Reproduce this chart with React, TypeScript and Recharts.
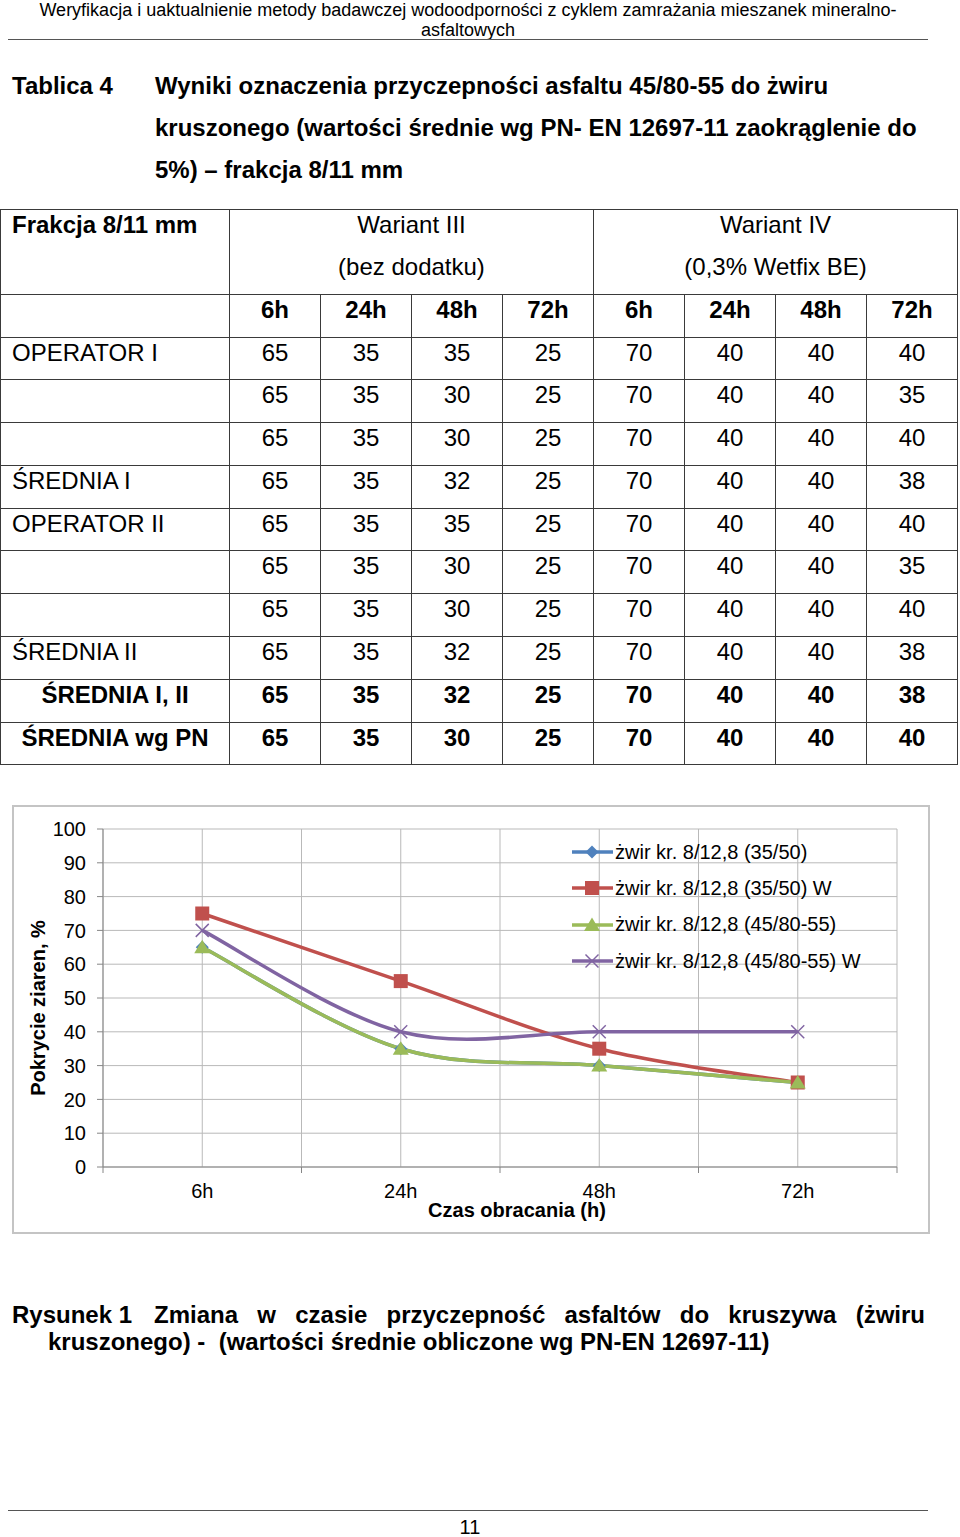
import React from "react";
import { LineChart, Line, XAxis, YAxis, CartesianGrid, Legend } from "recharts";

// dane wykresu
const hours = ["6h", "24h", "48h", "72h"];
const gravel3550 = [65, 35, 30, 25];
const gravel3550W = [75, 55, 35, 25];
const gravel4580 = [65, 35, 30, 25];
const gravel4580W = [70, 40, 40, 40];
const seriesNames = [
    "żwir kr. 8/12,8 (35/50)",
    "żwir kr. 8/12,8 (35/50) W",
    "żwir kr. 8/12,8 (45/80-55)",
    "żwir kr. 8/12,8 (45/80-55) W",
];
const seriesColors = ["#4F81BD", "#C0504D", "#9BBB59", "#8064A2"];
const seriesMarkers = ["diamond", "square", "triangle", "cross"];
const yTicks = [0, 10, 20, 30, 40, 50, 60, 70, 80, 90, 100];
const yTitle = "Pokrycie ziaren, %";
const xTitle = "Czas obracania (h)";

// dane tablicy
const tableHours = ["6h", "24h", "48h", "72h", "6h", "24h", "48h", "72h"];
const operatorI = [
    [65, 35, 35, 25, 70, 40, 40, 40],
    [65, 35, 30, 25, 70, 40, 40, 35],
    [65, 35, 30, 25, 70, 40, 40, 40],
];
const meanI = [65, 35, 32, 25, 70, 40, 40, 38];
const operatorII = [
    [65, 35, 35, 25, 70, 40, 40, 40],
    [65, 35, 30, 25, 70, 40, 40, 35],
    [65, 35, 30, 25, 70, 40, 40, 40],
];
const meanII = [65, 35, 32, 25, 70, 40, 40, 38];
const meanI_II = [65, 35, 32, 25, 70, 40, 40, 38];
const meanPN = [65, 35, 30, 25, 70, 40, 40, 40];

const FONT = "'Liberation Sans', Arial, sans-serif";
const CHART_FS = 20;

const data = hours.map((h, i) => ({
    hour: h,
    s1: gravel3550[i],
    s2: gravel3550W[i],
    s3: gravel4580[i],
    s4: gravel4580W[i],
}));

// wygladzanie linii jak w Excelu (Catmull-Rom -> Bezier)
function excelSmooth(context: any) {
    let pts: number[][] = [];
    return {
        areaStart() {},
        areaEnd() {},
        lineStart() {
            pts = [];
        },
        lineEnd() {
            const n = pts.length;
            if (!n) return;
            context.moveTo(pts[0][0], pts[0][1]);
            for (let i = 0; i < n - 1; i++) {
                const p0 = pts[Math.max(i - 1, 0)];
                const p1 = pts[i];
                const p2 = pts[i + 1];
                const p3 = pts[Math.min(i + 2, n - 1)];
                context.bezierCurveTo(
                    p1[0] + (p2[0] - p0[0]) / 6,
                    p1[1] + (p2[1] - p0[1]) / 6,
                    p2[0] - (p3[0] - p1[0]) / 6,
                    p2[1] - (p3[1] - p1[1]) / 6,
                    p2[0],
                    p2[1]
                );
            }
        },
        point(x: number, y: number) {
            pts.push([+x, +y]);
        },
    };
}

function Marker({ kind, cx, cy, color }: any) {
    if (kind === "diamond") {
        const r = 6.5;
        return <polygon points={`${cx},${cy - r} ${cx + r},${cy} ${cx},${cy + r} ${cx - r},${cy}`} fill={color} />;
    }
    if (kind === "square") {
        return <rect x={cx - 7} y={cy - 7} width={14} height={14} fill={color} />;
    }
    if (kind === "triangle") {
        return <polygon points={`${cx},${cy - 7.5} ${cx + 8},${cy + 6} ${cx - 8},${cy + 6}`} fill={color} />;
    }
    const r = 6.5;
    return (
        <g stroke={color} strokeWidth={1.5}>
            <line x1={cx - r} y1={cy - r} x2={cx + r} y2={cy + r} />
            <line x1={cx - r} y1={cy + r} x2={cx + r} y2={cy - r} />
        </g>
    );
}

const PLOT_W = 794;
const BAND = PLOT_W / hours.length;

function HourTick(props: any) {
    const { x, y, payload, index } = props;
    return (
        <g>
            <line x1={x - BAND / 2} y1={y} x2={x - BAND / 2} y2={y + 6} stroke="#868686" />
            {index === hours.length - 1 && (
                <line x1={x + BAND / 2} y1={y} x2={x + BAND / 2} y2={y + 6} stroke="#868686" />
            )}
            <text x={x} y={y + 24} dy="0.35em" textAnchor="middle" fontSize={CHART_FS} fill="#000" fontFamily={FONT}>
                {payload.value}
            </text>
        </g>
    );
}

function YTitle(props: any) {
    const vb = props.viewBox;
    const cx = vb.x + 24;
    const cy = vb.y + vb.height / 2 + 10;
    return (
        <text x={cx} y={cy} transform={`rotate(-90 ${cx} ${cy})`} textAnchor="middle" dominantBaseline="central"
            fontSize={CHART_FS} fontWeight="bold" fill="#000" fontFamily={FONT}>
            {yTitle}
        </text>
    );
}

function XTitle(props: any) {
    const vb = props.viewBox;
    const cx = vb.x + vb.width / 2 + 17;
    const cy = vb.y + 43;
    return (
        <text x={cx} y={cy} textAnchor="middle" dominantBaseline="central"
            fontSize={CHART_FS} fontWeight="bold" fill="#000" fontFamily={FONT}>
            {xTitle}
        </text>
    );
}

function ChartLegend() {
    return (
        <div style={{ fontFamily: FONT, fontSize: CHART_FS, color: "#000" }}>
            {seriesNames.map((name, i) => (
                <div key={name} style={{ height: 36.3, display: "flex", alignItems: "center", whiteSpace: "nowrap" }}>
                    <svg width={44} height={20} style={{ display: "block" }}>
                        <line x1={1} y1={10} x2={42} y2={10} stroke={seriesColors[i]} strokeWidth={3.5} />
                        <Marker kind={seriesMarkers[i]} cx={21} cy={10} color={seriesColors[i]} />
                    </svg>
                    <span style={{ marginLeft: 0 }}>{name}</span>
                </div>
            ))}
        </div>
    );
}

function renderDot(kind: string, color: string) {
    return (p: any) => (
        <g key={`${kind}-${p.index}`}>
            <Marker kind={kind} cx={p.cx} cy={p.cy} color={color} />
        </g>
    );
}

function AdhesionChart() {
    const keys = ["s1", "s2", "s3", "s4"];
    return (
        <LineChart width={914} height={425} data={data} margin={{ top: 22, right: 31, left: 0, bottom: 0 }}>
            <CartesianGrid
                stroke="#b9b9b9"
                verticalCoordinatesGenerator={({ offset }: any) =>
                    Array.from({ length: hours.length * 2 + 1 }, (_, i) => offset.left + (i * offset.width) / (hours.length * 2))
                }
            />
            <XAxis
                dataKey="hour"
                height={65}
                interval={0}
                padding={{ left: BAND / 2, right: BAND / 2 }}
                tickLine={false}
                tickSize={0}
                tickMargin={0}
                axisLine={{ stroke: "#868686" }}
                tick={<HourTick />}
                label={{ content: <XTitle /> }}
            />
            <YAxis
                width={89}
                domain={[0, 100]}
                ticks={yTicks}
                interval={0}
                tickSize={6}
                tickMargin={11}
                axisLine={{ stroke: "#868686" }}
                tickLine={{ stroke: "#868686" }}
                tick={{ fontSize: CHART_FS, fill: "#000", fontFamily: FONT }}
                label={{ content: <YTitle /> }}
            />
            <Legend
                layout="vertical"
                align="center"
                verticalAlign="middle"
                content={<ChartLegend />}
                wrapperStyle={{ left: 557, top: 27, width: 340, height: 146 }}
            />
            {keys.map((k, i) => (
                <Line
                    key={k}
                    dataKey={k}
                    name={seriesNames[i]}
                    type={excelSmooth as any}
                    stroke={seriesColors[i]}
                    strokeWidth={3.5}
                    dot={renderDot(seriesMarkers[i], seriesColors[i])}
                    activeDot={false}
                    isAnimationActive={false}
                />
            ))}
        </LineChart>
    );
}

// geometria tablicy
const colX = [0, 229, 320, 411, 502, 593, 684, 775, 866, 957];
const rowY = [209, 294, 337, 379, 422, 465, 508, 550, 593, 636, 679, 722, 764];
const BORDER = "1px solid #3a3a3a";

function Cell({ c0, c1, r0, r1, children, bold, align }: any) {
    return (
        <div
            style={{
                position: "absolute",
                left: colX[c0],
                top: rowY[r0],
                width: colX[c1] - colX[c0] + 1,
                height: rowY[r1] - rowY[r0] + 1,
                border: BORDER,
                boxSizing: "border-box",
                fontWeight: bold ? "bold" : "normal",
                textAlign: align || "center",
                paddingLeft: align === "left" ? 11 : 0,
                lineHeight: "30px",
                whiteSpace: "nowrap",
            }}
        >
            {children}
        </div>
    );
}

function ResultsTable() {
    const body: { label: string; values: number[]; bold?: boolean; center?: boolean }[] = [
        { label: "OPERATOR I", values: operatorI[0] },
        { label: "", values: operatorI[1] },
        { label: "", values: operatorI[2] },
        { label: "ŚREDNIA I", values: meanI },
        { label: "OPERATOR II", values: operatorII[0] },
        { label: "", values: operatorII[1] },
        { label: "", values: operatorII[2] },
        { label: "ŚREDNIA II", values: meanII },
        { label: "ŚREDNIA I, II", values: meanI_II, bold: true, center: true },
        { label: "ŚREDNIA wg PN", values: meanPN, bold: true, center: true },
    ];
    return (
        <div style={{ fontFamily: FONT, fontSize: 24, color: "#000" }}>
            <Cell c0={0} c1={1} r0={0} r1={1} bold align="left">Frakcja 8/11 mm</Cell>
            <Cell c0={1} c1={5} r0={0} r1={1}>
                <div>Wariant III</div>
                <div style={{ marginTop: 12 }}>(bez dodatku)</div>
            </Cell>
            <Cell c0={5} c1={9} r0={0} r1={1}>
                <div>Wariant IV</div>
                <div style={{ marginTop: 12 }}>(0,3% Wetfix BE)</div>
            </Cell>
            <Cell c0={0} c1={1} r0={1} r1={2} />
            {tableHours.map((h, i) => (
                <Cell key={`h${i}`} c0={i + 1} c1={i + 2} r0={1} r1={2} bold>{h}</Cell>
            ))}
            {body.map((row, r) => (
                <React.Fragment key={`r${r}`}>
                    <Cell c0={0} c1={1} r0={r + 2} r1={r + 3} bold={row.bold} align={row.center ? "center" : "left"}>
                        {row.label}
                    </Cell>
                    {row.values.map((v, i) => (
                        <Cell key={`c${r}-${i}`} c0={i + 1} c1={i + 2} r0={r + 2} r1={r + 3} bold={row.bold}>{v}</Cell>
                    ))}
                </React.Fragment>
            ))}
        </div>
    );
}

const captionStyle: React.CSSProperties = {
    position: "absolute",
    fontSize: 24,
    fontWeight: "bold",
    lineHeight: "27px",
    whiteSpace: "nowrap",
};

export default function App() {
    return (
        <div style={{ position: "absolute", left: 0, top: 0, width: 960, height: 1537, background: "#fff", fontFamily: FONT, color: "#000" }}>
            <div style={{ position: "absolute", left: 8, top: 0, width: 920, textAlign: "center", fontSize: 18, lineHeight: "20px" }}>
                Weryfikacja i uaktualnienie metody badawczej wodoodporności z cyklem zamrażania mieszanek mineralno-
                <br />
                asfaltowych
            </div>
            <div style={{ position: "absolute", left: 8, top: 39, width: 920, height: 0, borderTop: "1.5px solid #555" }} />

            <div style={{ position: "absolute", left: 12, top: 65, fontSize: 24, fontWeight: "bold", lineHeight: "42px" }}>
                Tablica 4
            </div>
            <div style={{ position: "absolute", left: 155, top: 65, width: 800, fontSize: 24, fontWeight: "bold", lineHeight: "42px", whiteSpace: "nowrap" }}>
                Wyniki oznaczenia przyczepności asfaltu 45/80-55 do żwiru
                <br />
                kruszonego (wartości średnie wg PN- EN 12697-11 zaokrąglenie do
                <br />
                5%) – frakcja 8/11 mm
            </div>

            <ResultsTable />

            <div style={{ position: "absolute", left: 12, top: 805, width: 918, height: 429, border: "2px solid #c4c4c4", boxSizing: "border-box" }}>
                <AdhesionChart />
            </div>

            <div style={{ ...captionStyle, left: 12, top: 1301 }}>Rysunek 1</div>
            <div style={{ ...captionStyle, left: 154, top: 1301, width: 771, textAlign: "justify", textAlignLast: "justify" }}>
                Zmiana w czasie przyczepność asfaltów do kruszywa (żwiru
            </div>
            <div style={{ ...captionStyle, left: 48, top: 1328 }}>
                kruszonego) - &nbsp;(wartości średnie obliczone wg PN-EN 12697-11)
            </div>

            <div style={{ position: "absolute", left: 8, top: 1510, width: 920, height: 0, borderTop: "1.5px solid #555" }} />
            <div style={{ position: "absolute", left: 440, top: 1516, width: 60, textAlign: "center", fontSize: 20, lineHeight: "22px" }}>
                11
            </div>
        </div>
    );
}
